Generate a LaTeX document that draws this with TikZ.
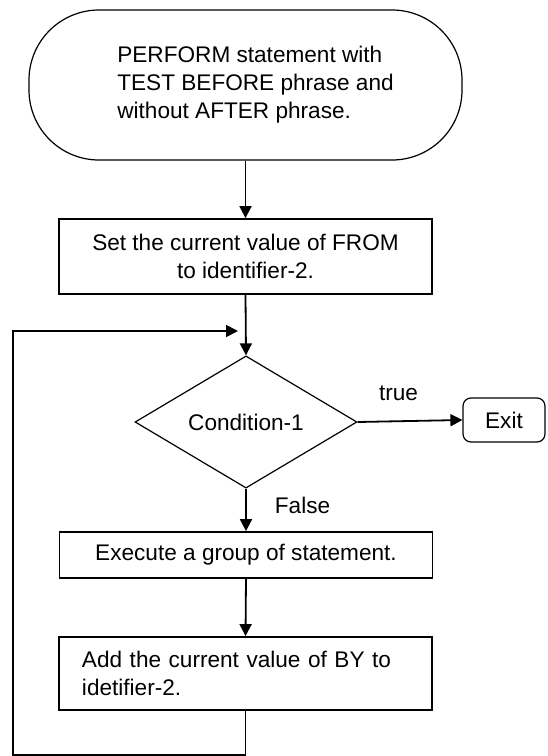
\documentclass[tikz,border=0pt]{standalone}
\usepackage{fontspec}
\setmainfont{Liberation Sans}
\usetikzlibrary{shapes.geometric,arrows.meta}
\begin{document}
\begin{tikzpicture}[x=0.5pt, y=-0.5pt,
  every node/.style={font=\fontsize{11.3}{14}\selectfont, inner sep=0pt},
  procbox/.style={draw, line width=0.9pt, minimum width=186.5pt},
  termnode/.style={draw, line width=0.6pt, rounded corners=35pt, minimum width=216.5pt, minimum height=75pt},
  decision/.style={draw, diamond, line width=0.6pt, minimum width=111pt, minimum height=51pt},
  flow/.style={line width=0.9pt, -{Triangle[length=6pt, width=6pt]}},
  lbl/.style={font=\fontsize{11.3}{14}\selectfont}]
\useasboundingbox (0,0) rectangle (547,756);
% nodes
\node[termnode] (start) at (245.5,85) {\begin{tabular}{@{\hspace{10pt}}l@{}}PERFORM statement with\\TEST BEFORE phrase and\\without AFTER phrase.\end{tabular}};
\node[procbox, minimum height=37.5pt, align=center] (setfrom) at (245.5,256.5) {Set the current value of FROM\\to identifier-2.};
\node[decision] (cond) at (246,422) {Condition-1};
\node[draw, line width=0.6pt, rounded corners=4pt, minimum width=41pt, minimum height=22pt] (exit) at (504,420) {Exit};
\node[procbox, minimum height=23pt] (exec) at (246,555) {Execute a group of statement.};
\node[procbox, minimum height=36.5pt, text width=163.5pt, align=left] (addby) at (245.5,673.5) {Add the current value of BY to\\idetifier-2.};
% loop back
\coordinate (loopbl) at (13,755);
\coordinate (loopin) at (238,331);
% connectors
\draw[flow] (start.south -| setfrom.north) -- (setfrom.north);
\draw[flow] (setfrom.south) -- (cond.north);
\draw[flow] (cond.east) -- node[lbl, pos=0.39, above=10pt] (true) {true} (exit.west);
\draw[flow] (cond.south) -- node[lbl, pos=0.39, right=14pt] (false) {False} (exec.north);
\draw[flow] (exec.south) -- (addby.north);
\draw[flow] (addby.south) |- (loopbl) |- (loopin);
\end{tikzpicture}
\end{document}
